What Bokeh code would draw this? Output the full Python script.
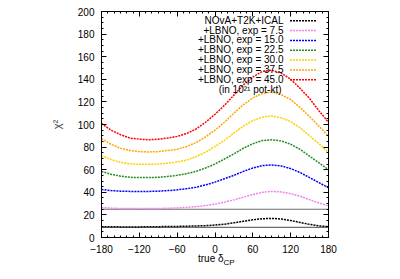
import numpy as np
from bokeh.plotting import figure
from bokeh.models import LinearAxis, Range1d, Label, FixedTicker, Div
from bokeh.layouts import column
from bokeh.embed import file_html
from bokeh.resources import INLINE

# ---------------- data ----------------
delta_cp = [-180, -165, -150, -135, -120, -105, -90, -75, -60, -45, -30, -15,
            0, 15, 30, 45, 60, 75, 90, 105, 120, 135, 150, 165, 180]

chi2_nova_t2k_ical = [9.6, 9.5, 9.4, 9.4, 9.4, 9.5, 9.6, 9.7, 9.8, 10.0, 10.2, 10.5,
                      11.0, 11.8, 13.0, 14.4, 15.7, 16.6, 16.9, 16.4, 15.0, 13.3, 11.6, 10.3, 9.6]
chi2_exp_7_5 = [26.5, 26.0, 25.7, 25.6, 25.6, 25.6, 25.7, 25.9, 26.2, 26.7, 27.3, 28.3,
                29.5, 31.3, 33.3, 35.7, 38.0, 40.0, 40.8, 40.3, 38.8, 36.5, 33.5, 30.5, 28.0]
chi2_exp_15_0 = [42.5, 41.5, 41.0, 40.8, 40.7, 40.8, 41.0, 41.5, 42.2, 43.2, 44.5, 46.5,
                 49.0, 52.0, 55.0, 58.5, 61.5, 63.7, 64.2, 63.3, 61.0, 57.5, 53.0, 48.5, 44.0]
chi2_exp_22_5 = [58.5, 56.0, 54.3, 53.3, 53.0, 53.0, 53.3, 54.0, 55.0, 56.5, 58.5, 61.5,
                 65.0, 69.5, 74.0, 79.0, 83.0, 85.8, 86.5, 85.5, 82.5, 78.0, 72.0, 66.0, 60.0]
chi2_exp_30_0 = [72.5, 69.0, 66.5, 65.2, 64.8, 64.8, 65.0, 65.8, 66.8, 68.5, 71.5, 75.5,
                 80.5, 86.0, 92.5, 98.5, 103.5, 106.5, 107.5, 106.0, 102.5, 97.0, 90.0, 83.0, 75.0]
chi2_exp_37_5 = [87.5, 82.5, 79.0, 77.0, 76.0, 75.7, 76.0, 77.0, 78.0, 80.5, 84.0, 89.0,
                 95.0, 102.0, 110.0, 117.5, 123.5, 127.5, 128.7, 126.5, 122.0, 115.0, 107.0, 98.5, 89.5]
chi2_exp_45_0 = [101.0, 95.0, 91.0, 88.0, 87.0, 86.5, 87.0, 88.0, 89.5, 92.0, 96.0, 102.0,
                 109.0, 117.0, 126.0, 135.0, 142.0, 147.0, 148.0, 145.5, 140.0, 132.0, 123.0, 112.0, 102.0]

series_labels = ["NOvA+T2K+ICAL", "+LBNO, exp = 7.5", "+LBNO, exp = 15.0",
                 "+LBNO, exp = 22.5", "+LBNO, exp = 30.0", "+LBNO, exp = 37.5",
                 "+LBNO, exp = 45.0"]
legend_note = "(in 10\u00b2\u00b9 pot-kt)"
sigma_levels = [9, 25]          # 3 sigma and 5 sigma lines

x_ticks = [-180, -120, -60, 0, 60, 120, 180]
x_minor = list(range(-180, 181, 10))
y_ticks = list(range(0, 201, 20))
y_minor = list(range(0, 201, 5))

# ---------------- styling ----------------
colors = ["#000000", "#ee82ee", "#0000ff", "#228b22", "#ffd000", "#ffa500", "#ff0000"]
FONT = "Liberation Sans"
FW, FH = 227, 226
BL, BR, BT, BB = 101, 56, 11, 21
XMIN, XMAX, YMIN, YMAX = -180, 180, 0, 200

p = figure(x_range=Range1d(XMIN, XMAX), y_range=Range1d(YMIN, YMAX),
           width=BL + FW + BR, height=BT + FH + BB,
           min_border_left=BL, min_border_right=BR, min_border_top=BT, min_border_bottom=BB,
           output_backend="svg", toolbar_location=None)
p.grid.visible = False
p.outline_line_color = "black"
p.outline_line_width = 1
p.background_fill_color = "white"
p.border_fill_color = "white"

def style_axis(ax, show_labels):
    ax.axis_line_color = "black"
    ax.major_tick_in = 5
    ax.major_tick_out = 0
    ax.minor_tick_in = 2
    ax.minor_tick_out = 0
    ax.major_tick_line_color = "black"
    ax.minor_tick_line_color = "black"
    ax.major_label_text_font = FONT
    if show_labels:
        ax.major_label_text_font_size = "10px"
        ax.major_label_text_color = "black"
    else:
        ax.major_label_text_font_size = "1px"
        ax.major_label_text_color = None
        ax.major_label_standoff = 0

p.xaxis.ticker = FixedTicker(ticks=x_ticks, minor_ticks=x_minor)
p.yaxis.ticker = FixedTicker(ticks=y_ticks, minor_ticks=y_minor)
style_axis(p.xaxis[0], True)
style_axis(p.yaxis[0], True)
p.xaxis.major_label_standoff = 7
p.yaxis.major_label_standoff = 7
p.yaxis.axis_label = "\u03c7\u00b2"
p.yaxis.axis_label_text_font = FONT
p.yaxis.axis_label_text_font_style = "normal"
p.yaxis.axis_label_text_font_size = "11px"
p.yaxis.axis_label_standoff = 12

top_ax = LinearAxis(ticker=FixedTicker(ticks=x_ticks, minor_ticks=x_minor))
right_ax = LinearAxis(ticker=FixedTicker(ticks=y_ticks, minor_ticks=y_minor))
style_axis(top_ax, False)
style_axis(right_ax, False)
p.add_layout(top_ax, "above")
p.add_layout(right_ax, "right")

# sigma reference lines
for lvl in sigma_levels:
    p.line([XMIN, XMAX], [lvl, lvl], line_color="#6e6e6e", line_width=1.2)

series = [chi2_nova_t2k_ical, chi2_exp_7_5, chi2_exp_15_0, chi2_exp_22_5,
          chi2_exp_30_0, chi2_exp_37_5, chi2_exp_45_0]
for ys, c in zip(series, colors):
    p.line(delta_cp, ys, line_color=c, line_width=1.5, line_dash="2 1")

# ---------------- legend (gnuplot style: text right, sample line after) ----------------
px_x = (XMAX - XMIN) / FW
px_y = (YMAX - YMIN) / FH
text_right_px = -45        # from right frame edge
line_x0_px, line_x1_px = -38.5, -12.5
row0_px, row_step = 8.7, 9.85   # from top frame edge
for i, (lab, c) in enumerate(zip(series_labels, colors)):
    dy = row0_px + i * row_step
    p.add_layout(Label(x=XMAX, y=YMAX, x_offset=text_right_px, y_offset=-dy,
                       text=lab, text_align="right", text_baseline="middle",
                       text_font=FONT, text_font_size="10px", text_color="black"))
    yl = YMAX - (dy + 0.5) * px_y
    p.line([XMAX + line_x0_px * px_x, XMAX + line_x1_px * px_x], [yl, yl],
           line_color=c, line_width=1.5, line_dash="2 1")
dy = row0_px + 7 * row_step
p.add_layout(Label(x=XMAX, y=YMAX, x_offset=text_right_px - 2, y_offset=-dy,
                   text=legend_note, text_align="right", text_baseline="middle",
                   text_font=FONT, text_font_size="10px", text_color="black"))

# ---------------- x-axis title "true δ_CP" (HTML text with a real subscript) ----------------
xtitle = Div(text="true \u03b4<sub style='font-size:8px;vertical-align:-3px;line-height:2px'>CP</sub>",
             width=BL + FW + BR, height=14,
             styles={"font-family": FONT, "font-size": "10px", "line-height": "2px",
                     "padding-left": "198px", "color": "black", "margin": "0"})

layout = column(p, xtitle, spacing=0)
open("out.html", "w").write(file_html(layout, INLINE))
